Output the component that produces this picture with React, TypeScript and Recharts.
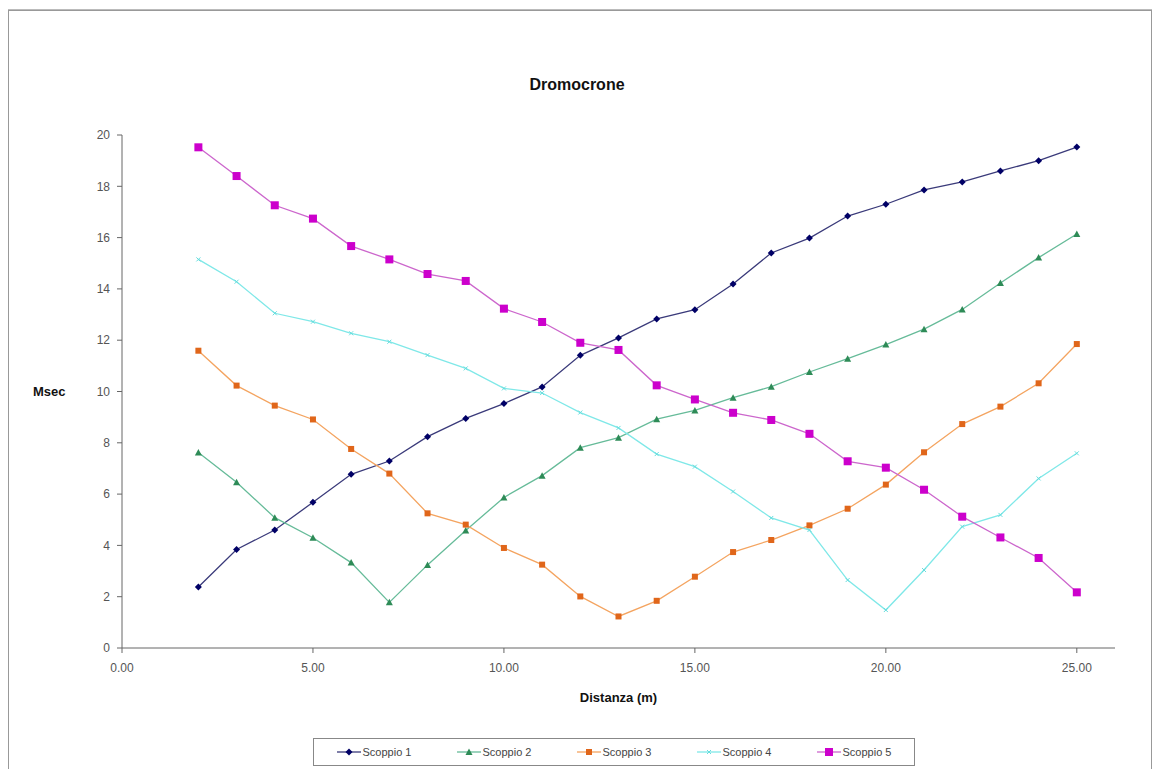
import { LineChart, Line, XAxis, YAxis } from 'recharts'

const distances = [2, 3, 4, 5, 6, 7, 8, 9, 10, 11, 12, 13, 14, 15, 16, 17, 18, 19, 20, 21, 22, 23, 24, 25]

const scoppio1 = [2.38, 3.84, 4.6, 5.68, 6.77, 7.29, 8.24, 8.95, 9.53, 10.18, 11.41, 12.09, 12.83, 13.19, 14.19, 15.4, 15.98, 16.84, 17.3, 17.86, 18.17, 18.6, 19.0, 19.53]
const scoppio2 = [7.62, 6.46, 5.08, 4.3, 3.33, 1.78, 3.24, 4.58, 5.87, 6.72, 7.81, 8.2, 8.92, 9.26, 9.76, 10.19, 10.76, 11.28, 11.83, 12.43, 13.2, 14.23, 15.22, 16.14]
const scoppio3 = [11.59, 10.23, 9.45, 8.91, 7.76, 6.8, 5.25, 4.81, 3.9, 3.25, 2.01, 1.23, 1.84, 2.78, 3.74, 4.21, 4.78, 5.43, 6.37, 7.63, 8.73, 9.41, 10.32, 11.85]
const scoppio4 = [15.15, 14.28, 13.05, 12.72, 12.27, 11.94, 11.42, 10.9, 10.12, 9.94, 9.18, 8.58, 7.56, 7.07, 6.1, 5.07, 4.6, 2.65, 1.48, 3.04, 4.73, 5.19, 6.61, 7.59]
const scoppio5 = [19.52, 18.4, 17.26, 16.74, 15.67, 15.15, 14.58, 14.31, 13.23, 12.71, 11.9, 11.62, 10.24, 9.69, 9.17, 8.89, 8.35, 7.28, 7.03, 6.17, 5.12, 4.31, 3.51, 2.17]

const xTicks = [0, 5, 10, 15, 20, 25]
const yTicks = [0, 2, 4, 6, 8, 10, 12, 14, 16, 18, 20]

type Marker = 'diamond' | 'triangle' | 'square' | 'cross' | 'bigsquare'

const SERIES: { key: string; name: string; values: number[]; line: string; fill: string; marker: Marker }[] = [
  { key: 's1', name: 'Scoppio 1', values: scoppio1, line: '#3a3a7a', fill: '#000066', marker: 'diamond' },
  { key: 's2', name: 'Scoppio 2', values: scoppio2, line: '#66bb99', fill: '#2e8b57', marker: 'triangle' },
  { key: 's3', name: 'Scoppio 3', values: scoppio3, line: '#f4a460', fill: '#e0661a', marker: 'square' },
  { key: 's4', name: 'Scoppio 4', values: scoppio4, line: '#7fe8e8', fill: '#66dddd', marker: 'cross' },
  { key: 's5', name: 'Scoppio 5', values: scoppio5, line: '#cc66cc', fill: '#cc00cc', marker: 'bigsquare' },
]

const data = distances.map((d, i) => {
  const row: Record<string, number> = { x: d }
  SERIES.forEach((s) => {
    row[s.key] = s.values[i]
  })
  return row
})

function markerShape(kind: Marker, cx: number, cy: number, fill: string) {
  switch (kind) {
    case 'diamond':
      return <path d={`M${cx},${cy - 3.5}L${cx + 3.5},${cy}L${cx},${cy + 3.5}L${cx - 3.5},${cy}Z`} fill={fill} />
    case 'triangle':
      return <path d={`M${cx},${cy - 3.5}L${cx + 3.5},${cy + 3}L${cx - 3.5},${cy + 3}Z`} fill={fill} />
    case 'square':
      return <rect x={cx - 3} y={cy - 3} width={6} height={6} fill={fill} />
    case 'cross':
      return <path d={`M${cx - 2},${cy - 2}L${cx + 2},${cy + 2}M${cx + 2},${cy - 2}L${cx - 2},${cy + 2}`} stroke={fill} strokeWidth={1} />
    case 'bigsquare':
      return <rect x={cx - 4} y={cy - 4} width={8} height={8} fill={fill} />
  }
}

const axisTick = { fontSize: 12, fill: '#555', fontFamily: 'Liberation Sans, Arial, sans-serif' }

export default function App() {
  return (
    <div style={{ position: 'relative', width: 1154, height: 769, background: '#fff', fontFamily: 'Liberation Sans, Arial, sans-serif' }}>
      <style>{'body{margin:0}'}</style>
      {/* chart area border */}
      <div style={{ position: 'absolute', left: 8, top: 10, width: 1142, height: 770, border: '1px solid #999', borderBottom: 'none', boxShadow: '0 -1px 0 #bbb' }} />
      <div style={{ position: 'absolute', left: 0, top: 76, width: 1154, textAlign: 'center', fontWeight: 'bold', fontSize: 16, color: '#111' }}>
        Dromocrone
      </div>
      <div style={{ position: 'absolute', left: 0, top: 0 }}>
        <LineChart width={1154} height={769} data={data} margin={{ top: 135, right: 39, bottom: 91, left: 0 }}>
          <XAxis
            dataKey="x"
            type="number"
            domain={[0, 26]}
            ticks={xTicks}
            allowDataOverflow
            tickFormatter={(v: number) => v.toFixed(2)}
            tick={axisTick}
            stroke="#666"
            tickSize={5}
            tickMargin={10}
            height={30}
            label={{ value: 'Distanza (m)', position: 'insideBottom', offset: -24, fontWeight: 'bold', fontSize: 13, fill: '#111' }}
          />
          <YAxis
            type="number"
            domain={[0, 20]}
            ticks={yTicks}
            tick={axisTick}
            stroke="#666"
            tickSize={5}
            tickMargin={7}
            width={122}
            label={{ value: 'Msec', position: 'insideLeft', offset: 33, fontWeight: 'bold', fontSize: 13, fill: '#111' }}
          />
          {SERIES.map((s) => (
            <Line
              key={s.key}
              dataKey={s.key}
              name={s.name}
              type="linear"
              stroke={s.line}
              strokeWidth={1.3}
              isAnimationActive={false}
              dot={(p: any) => <g key={`${s.key}-${p.index}`}>{markerShape(s.marker, p.cx, p.cy, s.fill)}</g>}
              activeDot={false}
            />
          ))}
        </LineChart>
      </div>
      {/* legend */}
      <div
        style={{
          position: 'absolute',
          left: 313,
          top: 738,
          width: 600,
          height: 26,
          border: '1px solid #888',
          display: 'flex',
          alignItems: 'center',
          justifyContent: 'space-around',
          fontSize: 11,
          color: '#444',
          background: '#fff',
        }}
      >
        {SERIES.map((s) => (
          <div key={s.key} style={{ display: 'flex', alignItems: 'center', gap: 2 }}>
            <svg width={24} height={10}>
              <line x1={0} y1={5} x2={24} y2={5} stroke={s.line} strokeWidth={1.3} />
              {markerShape(s.marker, 12, 5, s.fill)}
            </svg>
            <span>{s.name}</span>
          </div>
        ))}
      </div>
    </div>
  )
}
